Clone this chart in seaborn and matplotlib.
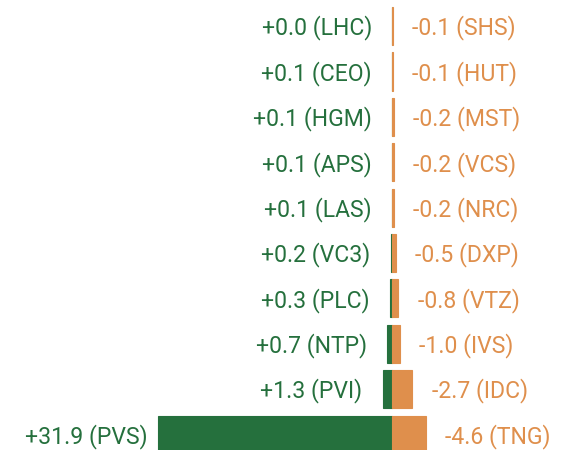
import numpy as np
import pandas as pd
import matplotlib
matplotlib.use("Agg")
import matplotlib.pyplot as plt
import seaborn as sns

# gainers (left, green) and losers (right, orange), top row first
gain_codes = ["LHC", "CEO", "HGM", "APS", "LAS", "VC3", "PLC", "NTP", "PVI", "PVS"]
gain_vals = [0.0, 0.1, 0.1, 0.1, 0.1, 0.2, 0.3, 0.7, 1.3, 31.9]
loss_codes = ["SHS", "HUT", "MST", "VCS", "NRC", "DXP", "VTZ", "IVS", "IDC", "TNG"]
loss_vals = [0.1, 0.1, 0.2, 0.2, 0.2, 0.5, 0.8, 1.0, 2.7, 4.6]

GREEN = "#25703d"
ORANGE = "#df8f4c"

rows = [str(i) for i in range(len(gain_vals))]
df = pd.DataFrame({
    "row": rows + rows,
    "value": [-v for v in gain_vals] + loss_vals,
    "side": ["gain"] * len(rows) + ["loss"] * len(rows),
})

sns.set_style("white")
plt.rcParams["font.family"] = ["Roboto", "DejaVu Sans"]

fig = plt.figure(figsize=(5.66, 4.5), dpi=100)
ax = fig.add_axes([0, 0, 1, 1])

sns.barplot(data=df, x="value", y="row", hue="side", order=rows,
            palette={"gain": GREEN, "loss": ORANGE}, dodge=False,
            orient="h", width=0.84, legend=False, ax=ax,
            linewidth=0.8, saturation=1)
for patch in ax.patches:
    patch.set_edgecolor(patch.get_facecolor())

ax.set_xlim(-53.48, 23.68)
ax.set_ylim(9.34, -0.574)
ax.axis("off")

gain_texts = []
for i in range(len(rows)):
    t = ax.annotate(f"+{gain_vals[i]:.1f} ({gain_codes[i]})", (-gain_vals[i], i + 0.04),
                    xytext=(-14.5, 0), textcoords="offset points",
                    ha="right", va="center", color=GREEN, fontsize=16.6)
    gain_texts.append(t)
    ax.annotate(f"-{loss_vals[i]:.1f} ({loss_codes[i]})", (loss_vals[i], i + 0.04),
                xytext=(14, 0), textcoords="offset points",
                ha="left", va="center", color=ORANGE, fontsize=16.6)

# keep left labels inside a small margin (pull them toward the bar)
fig.canvas.draw()
renderer = fig.canvas.get_renderer()
for t in gain_texts:
    bb = t.get_window_extent(renderer)
    if bb.x0 < 25:
        ox, oy = t.xyann
        t.xyann = (ox + (25 - bb.x0) * 72 / fig.dpi, oy)

fig.savefig("out.png", dpi=100)
